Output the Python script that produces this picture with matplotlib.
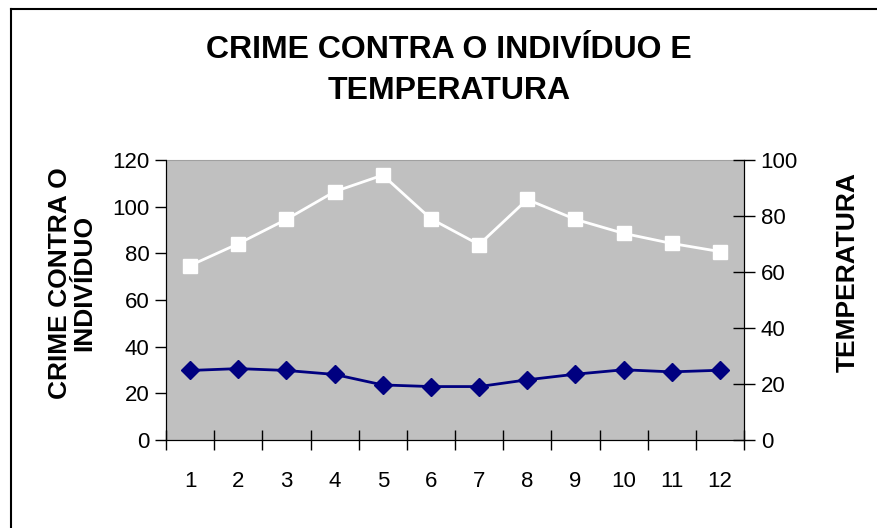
import matplotlib
matplotlib.use("Agg")
import matplotlib.pyplot as plt
from matplotlib.lines import Line2D

months = [1, 2, 3, 4, 5, 6, 7, 8, 9, 10, 11, 12]
month_labels = ["1", "2", "3", "4", "5", "6", "7", "8", "9", "10", "11", "12"]
crime = [29.8, 30.6, 29.8, 28.1, 23.6, 22.9, 22.9, 25.8, 28.2, 30.1, 29.2, 29.9]
temperature = [62.3, 70.1, 78.8, 88.7, 94.6, 79.0, 69.8, 85.9, 78.8, 73.8, 70.2, 67.3]

left_ticks = [0, 20, 40, 60, 80, 100, 120]
right_ticks = [0, 20, 40, 60, 80, 100]

plt.rcParams['font.family'] = ['Liberation Sans', 'DejaVu Sans']

W, H = 877, 528
fig = plt.figure(figsize=(W / 100, H / 100), dpi=100)
ax = fig.add_axes([166 / W, 1 - 440 / H, (744 - 166) / W, (440 - 160) / H])
ax2 = ax.twinx()

ax.set_facecolor('#c0c0c0')
ax.set_zorder(ax2.get_zorder() - 1)
ax2.patch.set_visible(False)

ax.plot(months, crime, color='#000080', marker='D', markersize=9, lw=2, zorder=3)
ax2.plot(months, temperature, color='white', marker='s', markersize=10, lw=2, zorder=3)

ax.set_xlim(0.5, 12.5)
ax.set_ylim(0, 120)
ax2.set_ylim(0, 100)
ax.set_yticks(left_ticks)
ax2.set_yticks(right_ticks)

ax.set_xticks([m - 0.5 for m in months] + [12.5])
ax.set_xticklabels([])
ax.set_xticks(months, minor=True)
ax.set_xticklabels(month_labels, minor=True)
ax.tick_params(axis='x', which='major', direction='inout', length=15, width=1)
ax.tick_params(axis='x', which='minor', length=0, pad=22, labelsize=16)
ax.tick_params(axis='y', direction='out', length=8, width=1, labelsize=16, pad=4)
ax2.tick_params(axis='y', direction='inout', length=16, width=1, labelsize=16, pad=4)

for a in (ax, ax2):
    a.spines['top'].set_visible(False)
    a.spines['left'].set_color('black')
    a.spines['bottom'].set_color('black')
    a.spines['right'].set_color('black')
ax.spines['top'].set_visible(True)
ax.spines['top'].set_color('#a0a0a0')

fig.text(449 / W, 1 - 50 / H, "CRIME CONTRA O INDIVÍDUO E", ha='center', va='center',
         fontsize=23, fontweight='bold')
fig.text(449 / W, 1 - 91 / H, "TEMPERATURA", ha='center', va='center',
         fontsize=23, fontweight='bold')
fig.text(72 / W, 1 - 283 / H, "CRIME CONTRA O\nINDIVÍDUO", ha='center', va='center',
         rotation=90, fontsize=19, fontweight='bold', linespacing=1.0)
fig.text(848 / W, 1 - 272 / H, "TEMPERATURA", ha='center', va='center',
         rotation=90, fontsize=19, fontweight='bold')

fig.add_artist(Line2D([11 / W, 1], [1 - 8.5 / H, 1 - 8.5 / H], color='black', lw=1.5,
                      transform=fig.transFigure))
fig.add_artist(Line2D([11 / W, 11 / W], [0, 1 - 8.5 / H], color='black', lw=1.5,
                      transform=fig.transFigure))

fig.savefig("out.png", dpi=100)
